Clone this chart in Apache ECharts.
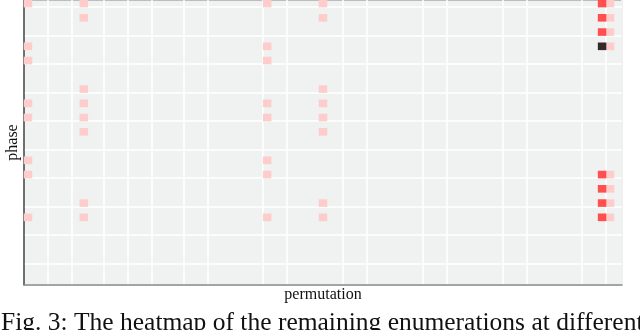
<!DOCTYPE html>
<html>
<head>
<meta charset="utf-8">
<script src="https://cdn.jsdelivr.net/npm/echarts@6/dist/echarts.min.js"></script>
<style>
  html, body { margin: 0; padding: 0; background: #fff; }
  #chart { width: 640px; height: 330px; }
</style>
</head>
<body>
<div id="chart"></div>
<script>
// heatmap grid size
const permutationCount = 75;
const phaseCount = 40;

// cells as [phase row, permutation column]
const lightCells = [
  [0, 0], [0, 7], [0, 30], [0, 37], [0, 73],
  [2, 7], [2, 37], [2, 73],
  [4, 73],
  [6, 0], [6, 30], [6, 73],
  [8, 0], [8, 30],
  [12, 7], [12, 37],
  [14, 0], [14, 7], [14, 30], [14, 37],
  [16, 0], [16, 7], [16, 30], [16, 37],
  [18, 7], [18, 37],
  [22, 0], [22, 30],
  [24, 0], [24, 30], [24, 73],
  [26, 73],
  [28, 7], [28, 37], [28, 73],
  [30, 0], [30, 7], [30, 30], [30, 37], [30, 73]
];
const redCells = [[0, 72], [2, 72], [4, 72], [24, 72], [26, 72], [28, 72], [30, 72]];
const darkCells = [[6, 72]];

// levels (remaining enumerations, relative)
const lightLevel = 1;
const redLevel = 5;
const darkLevel = 9;

// where the white guide lines sit (category index)
const xGuideLines = [3, 6, 10, 13, 16, 20, 23, 30, 33, 40, 43, 50, 53, 60, 63, 70, 73];
const yGuideLines = [1, 5, 9, 13, 17, 21, 25, 29, 33, 37];

const xCats = [];
for (let i = 0; i < permutationCount; i++) xCats.push(String(i));
const yCats = [];
for (let i = 0; i < phaseCount; i++) yCats.push(String(i));

let data = [];
lightCells.forEach(c => data.push([c[1], c[0], lightLevel]));
redCells.forEach(c => data.push([c[1], c[0], redLevel]));
darkCells.forEach(c => data.push([c[1], c[0], darkLevel]));

const serif = '"Liberation Serif", "DejaVu Serif", serif';

let myChart = echarts.init(document.getElementById('chart'));
myChart.setOption({
  animation: false,
  grid: {
    left: 24, right: 18, top: 0, bottom: 45,
    outerBoundsMode: 'none',
    containLabel: false,
    show: true,
    backgroundColor: '#f0f1f1',
    borderColor: '#8a8a8a',
    borderWidth: 1
  },
  xAxis: {
    type: 'category',
    data: xCats,
    name: 'permutation',
    nameLocation: 'middle',
    nameGap: 2,
    nameTextStyle: { fontFamily: serif, fontSize: 16, color: '#111', verticalAlign: 'top' },
    axisLabel: { show: false },
    axisTick: { show: false },
    axisLine: { show: true, lineStyle: { color: '#8a8a8a', width: 1.5 } },
    splitLine: {
      show: true,
      interval: (idx) => xGuideLines.includes(idx),
      lineStyle: { color: '#ffffff', width: 1.5 }
    }
  },
  yAxis: {
    type: 'category',
    data: yCats,
    inverse: true,
    name: 'phase',
    nameLocation: 'middle',
    nameGap: 3,
    nameTextStyle: { fontFamily: serif, fontSize: 16, color: '#111' },
    axisLabel: { show: false },
    axisTick: { show: false },
    axisLine: { show: true, lineStyle: { color: '#555', width: 1.5 } },
    splitLine: {
      show: true,
      interval: (idx) => yGuideLines.includes(idx),
      lineStyle: { color: '#ffffff', width: 1.5 }
    }
  },
  visualMap: {
    show: false,
    min: lightLevel,
    max: darkLevel,
    inRange: { color: ['#ffcccc', '#ff4f4f', '#352a2a'] }
  },
  series: [{
    type: 'heatmap',
    data: data,
    emphasis: { disabled: true }
  }],
  graphic: [{
    type: 'text',
    left: 1,
    top: 310,
    style: {
      text: 'Fig. 3: The heatmap of the remaining enumerations at different',
      font: '25.5px ' + serif,
      fill: '#111'
    }
  }]
});
</script>
</body>
</html>
